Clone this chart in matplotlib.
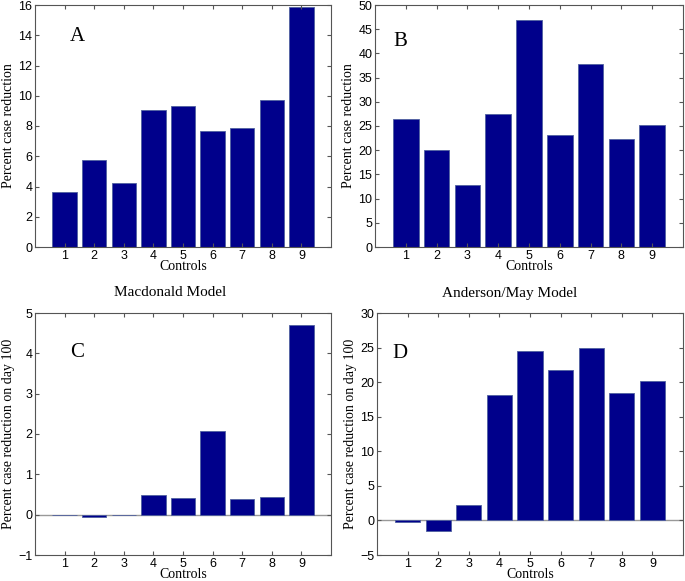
import numpy as np
import matplotlib.pyplot as plt

controls = [1, 2, 3, 4, 5, 6, 7, 8, 9]
macdonald_total = [3.65, 5.75, 4.25, 9.05, 9.3, 7.68, 7.85, 9.75, 15.9]
anderson_total = [26.5, 20.0, 12.9, 27.5, 47.0, 23.2, 37.9, 22.3, 25.3]
macdonald_day100 = [-0.02, -0.05, -0.02, 0.5, 0.41, 2.08, 0.38, 0.45, 4.7]
anderson_day100 = [-0.2, -1.5, 2.2, 18.2, 24.5, 21.8, 25.0, 18.5, 20.1]

bar_color = "#00008b"
serif = "Liberation Serif"
sans = "Liberation Sans"

fig = plt.figure(figsize=(6.85, 5.81), dpi=100)

# axes positions in pixels: left, top, right, bottom
boxes = [(35, 5, 331, 247), (375, 5, 683, 247),
         (35, 313, 331, 555), (377, 313, 683, 555)]
W, H = 685, 581

# values, ylim, yticks, letter, ylabel, letter position
panels = [
    (macdonald_total, (0, 16), range(0, 17, 2), "A", "Percent case reduction", (1.42, 13.9)),
    (anderson_total, (0, 50), range(0, 51, 5), "B", "Percent case reduction", (0.81, 42.4)),
    (macdonald_day100, (-1, 5), range(-1, 6), "C", "Percent case reduction on day 100", (1.42, 4.03)),
    (anderson_day100, (-5, 30), range(-5, 31, 5), "D", "Percent case reduction on day 100", (0.75, 24.2)),
]

for (l, t, r, b), (vals, ylim, yticks, letter, ylab, lpos) in zip(boxes, panels):
    ax = fig.add_axes([l / W, 1 - b / H, (r - l) / W, (b - t) / H])
    ax.bar(controls, vals, width=0.83, color=bar_color, edgecolor="#5060a0", linewidth=0.6)
    if ylim[0] < 0:
        ax.axhline(0, color="#999999", linewidth=1.0, zorder=0.5)
    ax.set_xlim(0, 10)
    ax.set_ylim(*ylim)
    ax.set_xticks(controls)
    ax.set_yticks(list(yticks))
    ax.tick_params(direction="in", top=True, right=True, length=3, labelsize=9,
                   color="#555555", pad=2)
    for lab in ax.get_xticklabels() + ax.get_yticklabels():
        lab.set_fontfamily(sans)
    for s in ax.spines.values():
        s.set_color("#555555")
        s.set_linewidth(0.8)
    ax.set_xlabel("Controls", fontfamily=serif, fontsize=10, labelpad=-1)
    ax.set_ylabel(ylab, fontfamily=serif, fontsize=10, labelpad=2)
    ax.text(lpos[0], lpos[1], letter, fontfamily=serif, fontsize=15,
            ha="center", va="center")

fig.text(170 / W, 1 - 293 / H, "Macdonald Model", ha="center", va="center",
         fontfamily=serif, fontsize=11)
fig.text(510 / W, 1 - 293 / H, "Anderson/May Model", ha="center", va="center",
         fontfamily=serif, fontsize=11)

fig.savefig("out.png", dpi=100)
